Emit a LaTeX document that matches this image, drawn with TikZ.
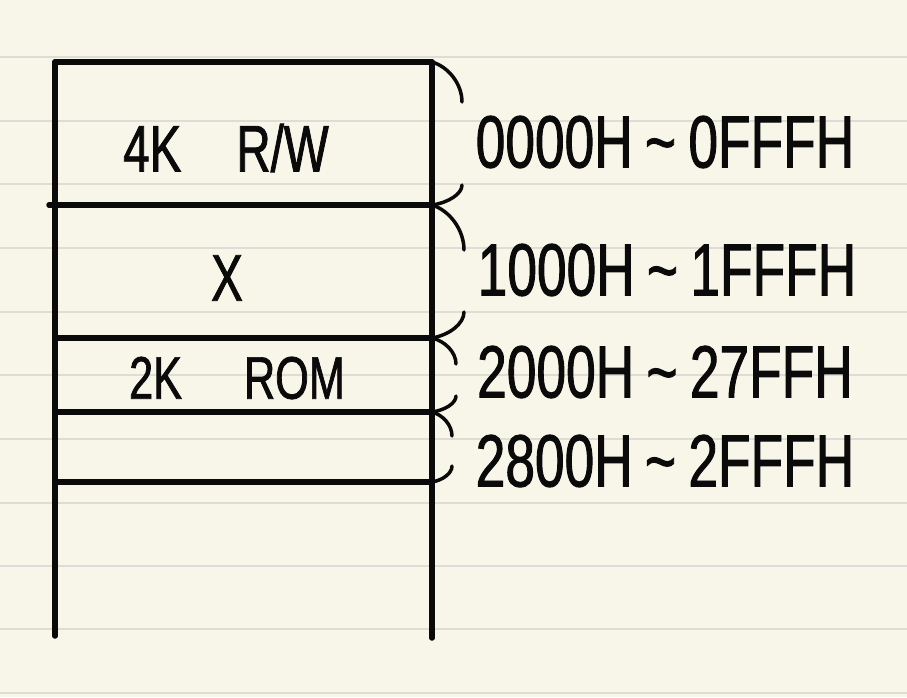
\documentclass[tikz,border=0pt]{standalone}
\usepackage{fontspec}
\setmainfont{Liberation Sans}
\newfontfamily\handfont[FakeStretch=0.72,FakeBold=1.2]{Liberation Sans}
\definecolor{paper}{HTML}{F8F6E9}
\definecolor{rule}{HTML}{DDDDD6}
\definecolor{ink}{HTML}{0A0A0A}

\begin{document}
\begin{tikzpicture}
  [x=1pt,y=-1pt,line cap=round,ink,
   wall/.style={draw=ink,line width=5.5pt},
   brace/.style={draw=ink,line width=3.5pt},
   addr/.style={font=\handfont\fontsize{74}{80}\selectfont,inner sep=0pt},
   part/.style={font=\handfont\fontsize{66}{70}\selectfont,inner sep=0pt}]
\useasboundingbox (0,0) rectangle (907,697);
\fill[paper] (0,0) rectangle (907,697);
  \foreach \y in {57,121,184,248,312,375,439,503,566,629,693}
    \draw[rule,line width=2pt] (0,\y) -- (907,\y);

  % memory map
  \coordinate (l0) at (55,62);  \coordinate (r0) at (432,62);
  \coordinate (l1) at (49,205); \coordinate (r1) at (432,205);
  \coordinate (l2) at (58,338); \coordinate (r2) at (432,338);
  \coordinate (l3) at (55,412); \coordinate (r3) at (432,412);
  \coordinate (l4) at (55,482); \coordinate (r4) at (432,482);
  \coordinate (lb) at (55,636); \coordinate (rb) at (432,638);

  \draw[wall] (l0) -- (lb);
  \draw[wall] (r0) -- (rb);
  \foreach \i in {0,...,4}
    \draw[wall] (l\i) -- (r\i);

  \node[part] (rw)  at (226,148) {4K\hspace{55pt}R/W};
  \node[part] (x)   at (227,278) {X};
  \node[part,font=\handfont\fontsize{60}{66}\selectfont] (rom) at (237,378) {2K\hspace{62pt}ROM};

  % braces
  \foreach \a/\b/\w/\h/\g in {0/1/30/40/20, 1/2/32/45/26, 2/3/24/26/16, 3/4/20/24/16} {
    \draw[brace] (r\a) .. controls +(0.55*\w,0.12*\h) and +(0,-0.45*\h) .. ([shift={(\w,\h)}]r\a);
    \draw[brace] ([shift={(\w,-\g)}]r\b) .. controls +(0,0.45*\g) and +(0.55*\w,-0.12*\g) .. (r\b);
  }

  \node[addr] (a0) at (665,142) {0000H\,\textasciitilde\,0FFFH};
  \node[addr] (a1) at (667,270) {1000H\,\textasciitilde\,1FFFH};
  \node[addr] (a2) at (665,372) {2000H\,\textasciitilde\,27FFH};
  \node[addr] (a3) at (665,461) {2800H\,\textasciitilde\,2FFFH};
\end{tikzpicture}
\end{document}
